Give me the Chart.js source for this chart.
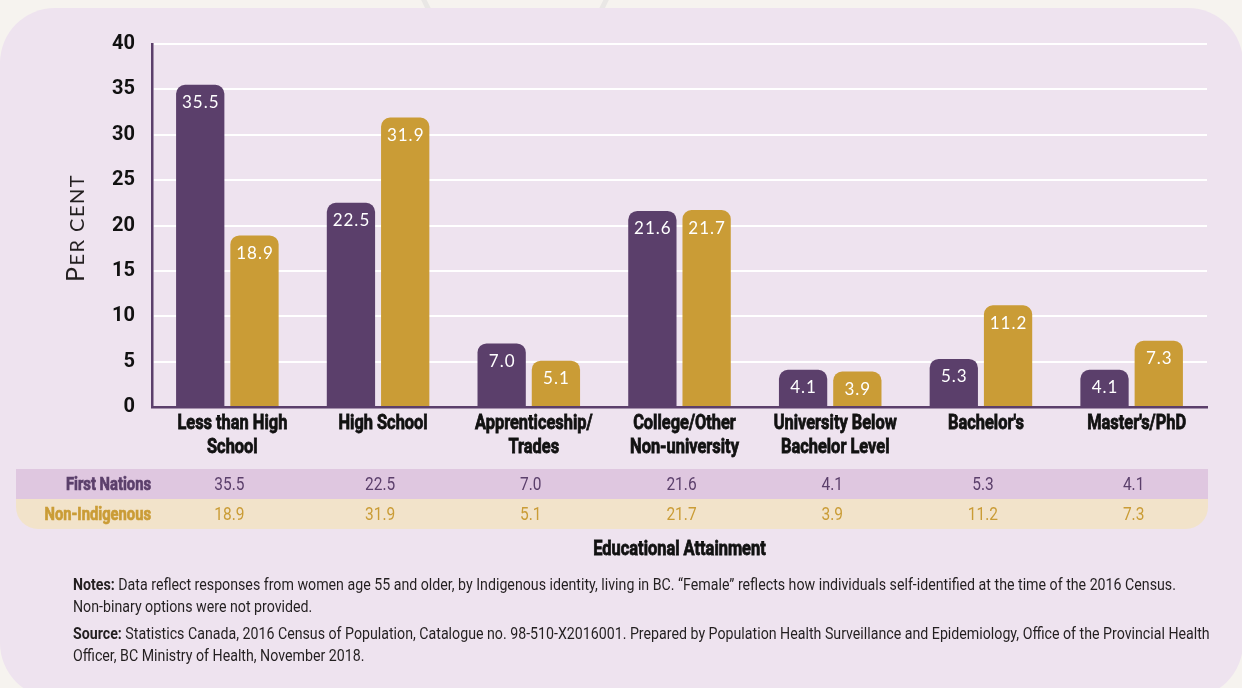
<!DOCTYPE html>
<html>
<head>
<meta charset="utf-8">
<script src="https://cdn.jsdelivr.net/npm/chart.js@4.4.1/dist/chart.umd.min.js"></script>
<style>
  html, body { margin: 0; padding: 0; }
  body { width: 1242px; height: 688px; background: #f6f3ef; position: relative; overflow: hidden; }
  .ring { position: absolute; left: 413px; top: -142px; width: 194px; height: 194px; border: 5px solid #e9e7e5; border-radius: 50%; }
  .panel { position: absolute; left: 0; top: 8px; width: 1243px; height: 690px; background: #eee3ef; border-radius: 55px; }
  #chart { position: absolute; left: 0; top: 0; }
  .notes { position: absolute; left: 73px; top: 574px; color: #231f20; white-space: nowrap;
           font-family: Roboto, sans-serif; font-size: 16px; line-height: 22px; transform-origin: 0 0; }
  .notes p { margin: 0 0 5px 0; }
</style>
</head>
<body>
<div class="ring"></div>
<div class="panel"></div>
<canvas id="chart" width="1242" height="688"></canvas>
<div class="notes" id="notes">
  <p><b>Notes:</b> Data reflect responses from women age 55 and older, by Indigenous identity, living in BC. “Female” reflects how individuals self-identified at the time of the 2016 Census.<br>Non-binary options were not provided.</p>
  <p><b>Source:</b> Statistics Canada, 2016 Census of Population, Catalogue no. 98-510-X2016001. Prepared by Population Health Surveillance and Epidemiology, Office of the Provincial Health<br>Officer, BC Ministry of Health, November 2018.</p>
</div>
<script>
const categories = [
    ['Less than High', 'School'],
    ['High School'],
    ['Apprenticeship/', 'Trades'],
    ['College/Other', 'Non-university'],
    ['University Below', 'Bachelor Level'],
    ["Bachelor's"],
    ["Master's/PhD"]
];
const firstNations = [35.5, 22.5, 7.0, 21.6, 4.1, 5.3, 4.1];
const nonIndigenous = [18.9, 31.9, 5.1, 21.7, 3.9, 11.2, 7.3];
const seriesNames = ['First Nations', 'Non-Indigenous'];
const yTicks = [0, 5, 10, 15, 20, 25, 30, 35, 40];

const PURPLE = '#5b3f6b';
const GOLD = '#ca9c36';
const SANS = 'Roboto, sans-serif';
const ROUND = "Lato, 'Open Sans', sans-serif";
const SQUEEZE = 0.82;

const ctx = document.getElementById('chart').getContext('2d');

// squeeze the notes block the way the condensed face would
ctx.font = 'bold 16px ' + SANS;
let noteW = ctx.measureText('Notes: ').width;
ctx.font = '16px ' + SANS;
noteW += ctx.measureText('Data reflect responses from women age 55 and older, by Indigenous identity, living in BC. “Female” reflects how individuals self-identified at the time of the 2016 Census.').width;
document.getElementById('notes').style.transform = 'scaleX(' + (1103 / noteW).toFixed(3) + ')';

function narrowText(c, text, x, y, sx, stroke) {
    c.save();
    c.translate(x, y);
    c.scale(sx, 1);
    if (stroke) {
        c.lineWidth = stroke;
        c.strokeStyle = c.fillStyle;
        c.strokeText(text, 0, 0);
    }
    c.fillText(text, 0, 0);
    c.restore();
}

// value labels inside the top of each bar
const barLabels = {
    id: 'barLabels',
    afterDatasetsDraw(chart) {
        const c = chart.ctx;
        c.save();
        c.fillStyle = '#ffffff';
        c.font = '17px ' + ROUND;
        c.letterSpacing = '1px';
        c.textAlign = 'center';
        c.textBaseline = 'middle';
        chart.data.datasets.forEach((ds, i) => {
            chart.getDatasetMeta(i).data.forEach((bar, j) => {
                c.fillText(ds.data[j].toFixed(1), bar.x + 0.5, bar.y + 18);
            });
        });
        c.restore();
    }
};

// category labels, y title, data table and x title
const extras = {
    id: 'extras',
    afterDraw(chart) {
        const c = chart.ctx;
        const x = chart.scales.x;
        const area = chart.chartArea;
        c.save();

        // category labels under the axis
        c.fillStyle = '#111111';
        c.font = 'bold 20px ' + SANS;
        c.textAlign = 'center';
        c.textBaseline = 'middle';
        categories.forEach((lines, i) => {
            lines.forEach((line, k) => {
                narrowText(c, line, x.getPixelForValue(i) + 5, area.bottom + 17 + k * 24, SQUEEZE, 0.8);
            });
        });

        // y axis title in small caps
        c.translate(76, 228);
        c.rotate(-Math.PI / 2);
        c.fillStyle = '#231f20';
        c.textBaseline = 'alphabetic';
        c.textAlign = 'left';
        c.letterSpacing = '1.5px';
        c.font = '25px ' + ROUND;
        const pW = c.measureText('P').width;
        c.font = '20px ' + ROUND;
        const restW = c.measureText('ER CENT').width;
        const sx = -(pW + restW) / 2;
        c.font = '25px ' + ROUND;
        c.fillText('P', sx, 8);
        c.font = '20px ' + ROUND;
        c.fillText('ER CENT', sx + pW, 8);
        c.setTransform(1, 0, 0, 1, 0, 0);
        c.letterSpacing = '0px';

        // table rows
        const left = 16, right = 1208, top = 469, rowH = 30;
        const rows = [
            { name: seriesNames[0], data: firstNations, bg: '#dfc7e0', fg: PURPLE },
            { name: seriesNames[1], data: nonIndigenous, bg: '#f2e3ca', fg: GOLD }
        ];
        rows.forEach((r, i) => {
            const y = top + i * rowH;
            c.fillStyle = r.bg;
            c.beginPath();
            if (i === rows.length - 1) {
                c.roundRect(left, y, right - left, rowH, [0, 0, 22, 22]);
            } else {
                c.rect(left, y, right - left, rowH);
            }
            c.fill();
            c.fillStyle = r.fg;
            c.textBaseline = 'middle';
            c.textAlign = 'right';
            c.font = 'bold 18px ' + SANS;
            narrowText(c, r.name, 151, y + rowH / 2 + 1, SQUEEZE, 0.7);
            c.textAlign = 'center';
            c.font = '18px ' + SANS;
            r.data.forEach((v, j) => {
                narrowText(c, v.toFixed(1), x.getPixelForValue(j) + 2, y + rowH / 2 + 1, 0.86);
            });
        });

        // x axis title
        c.fillStyle = '#111111';
        c.font = 'bold 20px ' + SANS;
        c.textAlign = 'center';
        narrowText(c, 'Educational Attainment', (area.left + area.right) / 2, 550, SQUEEZE, 0.8);
        c.restore();
    }
};

new Chart(ctx, {
    type: 'bar',
    data: {
        labels: categories,
        datasets: [{
            label: seriesNames[0],
            data: firstNations,
            backgroundColor: PURPLE,
            borderRadius: 9,
            categoryPercentage: 0.72,
            barPercentage: 0.89
        }, {
            label: seriesNames[1],
            data: nonIndigenous,
            backgroundColor: GOLD,
            borderRadius: 9,
            categoryPercentage: 0.72,
            barPercentage: 0.89
        }]
    },
    options: {
        responsive: false,
        animation: false,
        layout: { padding: { left: 0, right: 35, top: 44, bottom: 0 } },
        plugins: {
            legend: { display: false },
            tooltip: { enabled: false }
        },
        scales: {
            x: {
                grid: { display: false },
                border: { display: true, color: PURPLE, width: 2.5 },
                ticks: { display: false },
                afterFit(scale) { scale.height = 281; }
            },
            y: {
                min: 0,
                max: 40,
                afterBuildTicks(scale) { scale.ticks = yTicks.map(v => ({ value: v })); },
                grid: { color: '#ffffff', lineWidth: 2, drawTicks: false },
                border: { display: true, color: PURPLE, width: 2.5 },
                ticks: {
                    color: '#111111',
                    font: { family: SANS, size: 20, weight: 'bold' },
                    padding: 17
                },
                afterFit(scale) { scale.width = 152; }
            }
        }
    },
    plugins: [barLabels, extras]
});
</script>
</body>
</html>
